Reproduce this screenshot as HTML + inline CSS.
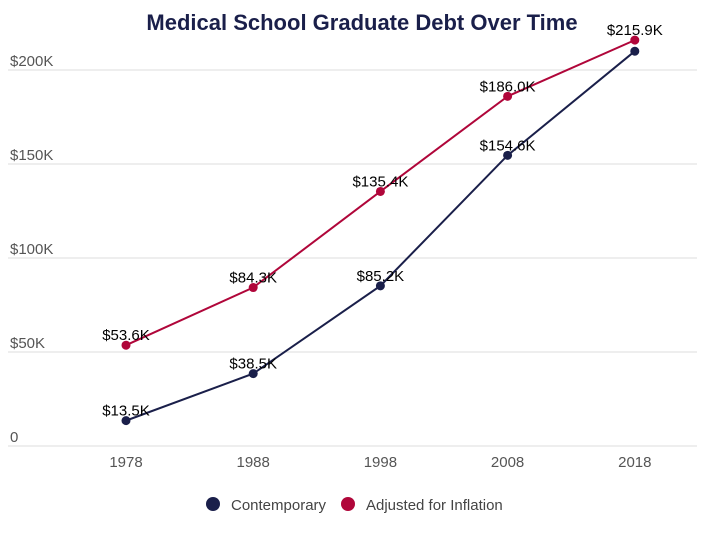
<!DOCTYPE html>
<html><head><meta charset="utf-8"><style>
body{margin:0;background:#fff;font-family:"Liberation Sans",Arial,sans-serif}
</style></head><body>
<svg id="chart" width="720" height="532" xmlns="http://www.w3.org/2000/svg" font-family="Liberation Sans, Arial, sans-serif">
<text x="362" y="30" text-anchor="middle" font-size="22" font-weight="bold" fill="#1a1f4a">Medical School Graduate Debt Over Time</text>
<g id="grid"></g><g id="series"></g>
<g>
<g><circle cx="213" cy="504" r="7" fill="#1a1f4a"/><text x="231" y="510" font-size="15" fill="#444">Contemporary</text></g>
<g><circle cx="348" cy="504" r="7" fill="#b0063a"/><text x="366" y="510" font-size="15" fill="#444">Adjusted for Inflation</text></g>
</g>
</svg>
<script>
const categories=["1978","1988","1998","2008","2018"];
const contemporary=[13.5,38.5,85.2,154.6,210.0];
const inflation=[53.6,84.3,135.4,186.0,215.9];
const yTicks=[0,50,100,150,200];
const ns="http://www.w3.org/2000/svg";
const x=i=>126+i*127.2;
const y=v=>446-v*1.88;
function el(t,a,p){const e=document.createElementNS(ns,t);for(const k in a)e.setAttribute(k,a[k]);p.appendChild(e);return e;}
const grid=document.getElementById('grid');
yTicks.forEach(t=>{
 const l=el('line',{x1:8,x2:697,y1:y(t),y2:y(t),stroke:'#ddd','stroke-width':1},grid);
 
 
 const tx=el('text',{x:10,y:y(t)-4,'font-size':15,fill:'#555'},grid);
 tx.textContent=t===0?'0':'$'+t+'K';
 
 
});
categories.forEach((c,i)=>{
 const tx=el('text',{x:x(i),y:467,'font-size':15,fill:'#555','text-anchor':'middle'},grid);
 tx.textContent=c;
 
 
});
const s=document.getElementById('series');
function draw(vals,color,name,labels){
 const p=el('polyline',{points:vals.map((v,i)=>x(i)+','+y(v)).join(' '),fill:'none',stroke:color,'stroke-width':2},s);
 
 
 vals.forEach((v,i)=>{
  const c=el('circle',{cx:x(i),cy:y(v),r:4.5,fill:color},s);
  
  
  if(labels[i]){
   const t=el('text',{x:x(i),y:y(v)-5,'font-size':15,fill:'#000','text-anchor':'middle'},s);
   t.textContent='$'+v.toFixed(1)+'K';
   
   
  }
 });
}
draw(contemporary,'#1a1f4a','contemporary',[1,1,1,1,0]);
draw(inflation,'#b0063a','inflation',[1,1,1,1,1]);
</script>
</body></html>
